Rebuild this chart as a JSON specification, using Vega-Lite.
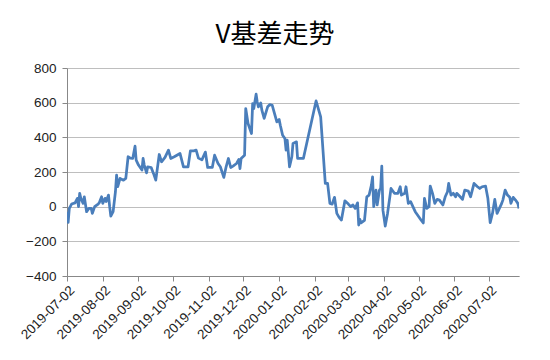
{
  "$schema": "https://vega.github.io/schema/vega-lite/v6.json",
  "width": 452,
  "height": 208,
  "autosize": {"type": "none"},
  "padding": {"left": 67, "top": 68, "right": 31, "bottom": 84},
  "background": "white",
  "title": {
    "text": "V基差走势",
    "fontSize": 26,
    "font": "Noto Sans CJK SC",
    "fontWeight": "normal",
    "color": "#000000",
    "anchor": "middle",
    "dx": -18,
    "offset": 13
  },
  "config": {
    "view": {"stroke": null},
    "axis": {
      "labelFont": "Liberation Sans",
      "labelFontSize": 13.5,
      "labelColor": "#222222",
      "domainColor": "#888888",
      "tickColor": "#888888",
      "gridColor": "#BEBEBE",
      "gridWidth": 1,
      "tickSize": 5,
      "title": null
    }
  },
  "data": {
    "values": [
      {"date": "2019-07-02", "basis": -30},
      {"date": "2019-07-03", "basis": -90},
      {"date": "2019-07-04", "basis": -10},
      {"date": "2019-07-06", "basis": 15},
      {"date": "2019-07-09", "basis": 22},
      {"date": "2019-07-11", "basis": 48},
      {"date": "2019-07-12", "basis": 0},
      {"date": "2019-07-13", "basis": 77},
      {"date": "2019-07-14", "basis": 48},
      {"date": "2019-07-16", "basis": 19},
      {"date": "2019-07-17", "basis": 57},
      {"date": "2019-07-19", "basis": -29},
      {"date": "2019-07-21", "basis": -10},
      {"date": "2019-07-23", "basis": -10},
      {"date": "2019-07-24", "basis": -39},
      {"date": "2019-07-26", "basis": 0},
      {"date": "2019-07-29", "basis": 15},
      {"date": "2019-07-30", "basis": 22},
      {"date": "2019-08-01", "basis": 57},
      {"date": "2019-08-02", "basis": 19},
      {"date": "2019-08-04", "basis": 48},
      {"date": "2019-08-05", "basis": 30},
      {"date": "2019-08-07", "basis": 67},
      {"date": "2019-08-08", "basis": 0},
      {"date": "2019-08-09", "basis": -54},
      {"date": "2019-08-11", "basis": -29},
      {"date": "2019-08-13", "basis": 86},
      {"date": "2019-08-14", "basis": 182},
      {"date": "2019-08-15", "basis": 115},
      {"date": "2019-08-17", "basis": 163},
      {"date": "2019-08-20", "basis": 153},
      {"date": "2019-08-22", "basis": 163},
      {"date": "2019-08-24", "basis": 288},
      {"date": "2019-08-26", "basis": 280},
      {"date": "2019-08-28", "basis": 278},
      {"date": "2019-08-30", "basis": 349},
      {"date": "2019-08-31", "basis": 268},
      {"date": "2019-09-02", "basis": 240},
      {"date": "2019-09-05", "basis": 211},
      {"date": "2019-09-06", "basis": 278},
      {"date": "2019-09-07", "basis": 240},
      {"date": "2019-09-09", "basis": 195},
      {"date": "2019-09-10", "basis": 230},
      {"date": "2019-09-13", "basis": 226},
      {"date": "2019-09-15", "basis": 192},
      {"date": "2019-09-17", "basis": 153},
      {"date": "2019-09-20", "basis": 301},
      {"date": "2019-09-22", "basis": 259},
      {"date": "2019-09-25", "basis": 284},
      {"date": "2019-09-28", "basis": 326},
      {"date": "2019-09-30", "basis": 278},
      {"date": "2019-10-03", "basis": 288},
      {"date": "2019-10-08", "basis": 307},
      {"date": "2019-10-11", "basis": 230},
      {"date": "2019-10-15", "basis": 230},
      {"date": "2019-10-17", "basis": 322},
      {"date": "2019-10-20", "basis": 322},
      {"date": "2019-10-22", "basis": 326},
      {"date": "2019-10-24", "basis": 280},
      {"date": "2019-10-27", "basis": 270},
      {"date": "2019-10-30", "basis": 315},
      {"date": "2019-11-01", "basis": 226},
      {"date": "2019-11-05", "basis": 226},
      {"date": "2019-11-07", "basis": 297},
      {"date": "2019-11-10", "basis": 249},
      {"date": "2019-11-12", "basis": 230},
      {"date": "2019-11-15", "basis": 169},
      {"date": "2019-11-17", "basis": 230},
      {"date": "2019-11-19", "basis": 278},
      {"date": "2019-11-21", "basis": 226},
      {"date": "2019-11-23", "basis": 234},
      {"date": "2019-11-26", "basis": 249},
      {"date": "2019-11-28", "basis": 272},
      {"date": "2019-11-29", "basis": 220},
      {"date": "2019-11-30", "basis": 278},
      {"date": "2019-12-03", "basis": 297},
      {"date": "2019-12-04", "basis": 566},
      {"date": "2019-12-06", "basis": 480},
      {"date": "2019-12-09", "basis": 422},
      {"date": "2019-12-10", "basis": 595},
      {"date": "2019-12-11", "basis": 566},
      {"date": "2019-12-13", "basis": 649},
      {"date": "2019-12-14", "basis": 604},
      {"date": "2019-12-15", "basis": 576},
      {"date": "2019-12-17", "basis": 599},
      {"date": "2019-12-18", "basis": 557},
      {"date": "2019-12-20", "basis": 509},
      {"date": "2019-12-23", "basis": 576},
      {"date": "2019-12-25", "basis": 589},
      {"date": "2019-12-27", "basis": 585},
      {"date": "2019-12-29", "basis": 537},
      {"date": "2019-12-31", "basis": 489},
      {"date": "2020-01-02", "basis": 503},
      {"date": "2020-01-03", "basis": 470},
      {"date": "2020-01-05", "basis": 412},
      {"date": "2020-01-07", "basis": 393},
      {"date": "2020-01-08", "basis": 326},
      {"date": "2020-01-09", "basis": 384},
      {"date": "2020-01-11", "basis": 230},
      {"date": "2020-01-13", "basis": 288},
      {"date": "2020-01-14", "basis": 365},
      {"date": "2020-01-17", "basis": 374},
      {"date": "2020-01-18", "basis": 278},
      {"date": "2020-01-23", "basis": 278},
      {"date": "2020-02-03", "basis": 610},
      {"date": "2020-02-07", "basis": 518},
      {"date": "2020-02-11", "basis": 134},
      {"date": "2020-02-13", "basis": 134},
      {"date": "2020-02-15", "basis": 19},
      {"date": "2020-02-17", "basis": 15},
      {"date": "2020-02-19", "basis": 54},
      {"date": "2020-02-21", "basis": -39},
      {"date": "2020-02-23", "basis": -62},
      {"date": "2020-02-25", "basis": -77},
      {"date": "2020-02-28", "basis": 34},
      {"date": "2020-03-02", "basis": 15},
      {"date": "2020-03-04", "basis": 0},
      {"date": "2020-03-06", "basis": 10},
      {"date": "2020-03-08", "basis": -10},
      {"date": "2020-03-10", "basis": 22},
      {"date": "2020-03-11", "basis": -106},
      {"date": "2020-03-12", "basis": -73},
      {"date": "2020-03-13", "basis": -94},
      {"date": "2020-03-16", "basis": -79},
      {"date": "2020-03-18", "basis": 57},
      {"date": "2020-03-20", "basis": 67},
      {"date": "2020-03-22", "basis": 124},
      {"date": "2020-03-23", "basis": 172},
      {"date": "2020-03-24", "basis": 0},
      {"date": "2020-03-25", "basis": 57},
      {"date": "2020-03-26", "basis": 96},
      {"date": "2020-03-27", "basis": 10},
      {"date": "2020-03-29", "basis": 96},
      {"date": "2020-03-30", "basis": 105},
      {"date": "2020-03-31", "basis": 234},
      {"date": "2020-04-01", "basis": -20},
      {"date": "2020-04-03", "basis": -112},
      {"date": "2020-04-05", "basis": -39},
      {"date": "2020-04-08", "basis": 105},
      {"date": "2020-04-11", "basis": 77},
      {"date": "2020-04-14", "basis": 77},
      {"date": "2020-04-16", "basis": 115},
      {"date": "2020-04-17", "basis": 67},
      {"date": "2020-04-20", "basis": 77},
      {"date": "2020-04-21", "basis": 115},
      {"date": "2020-04-23", "basis": 19},
      {"date": "2020-04-25", "basis": 29},
      {"date": "2020-04-29", "basis": -29},
      {"date": "2020-05-01", "basis": -48},
      {"date": "2020-05-04", "basis": -77},
      {"date": "2020-05-06", "basis": -94},
      {"date": "2020-05-07", "basis": 48},
      {"date": "2020-05-09", "basis": -10},
      {"date": "2020-05-11", "basis": 0},
      {"date": "2020-05-12", "basis": 119},
      {"date": "2020-05-14", "basis": 77},
      {"date": "2020-05-16", "basis": 19},
      {"date": "2020-05-18", "basis": 42},
      {"date": "2020-05-20", "basis": 38},
      {"date": "2020-05-23", "basis": 10},
      {"date": "2020-05-25", "basis": 57},
      {"date": "2020-05-27", "basis": 86},
      {"date": "2020-05-28", "basis": 134},
      {"date": "2020-05-30", "basis": 67},
      {"date": "2020-06-01", "basis": 77},
      {"date": "2020-06-03", "basis": 57},
      {"date": "2020-06-04", "basis": 77},
      {"date": "2020-06-07", "basis": 57},
      {"date": "2020-06-09", "basis": 42},
      {"date": "2020-06-11", "basis": 96},
      {"date": "2020-06-14", "basis": 90},
      {"date": "2020-06-16", "basis": 57},
      {"date": "2020-06-19", "basis": 134},
      {"date": "2020-06-22", "basis": 115},
      {"date": "2020-06-24", "basis": 105},
      {"date": "2020-06-26", "basis": 115},
      {"date": "2020-06-29", "basis": 119},
      {"date": "2020-07-01", "basis": 48},
      {"date": "2020-07-03", "basis": -92},
      {"date": "2020-07-05", "basis": -39},
      {"date": "2020-07-07", "basis": 42},
      {"date": "2020-07-09", "basis": -39},
      {"date": "2020-07-11", "basis": -10},
      {"date": "2020-07-13", "basis": 19},
      {"date": "2020-07-14", "basis": 38},
      {"date": "2020-07-16", "basis": 96},
      {"date": "2020-07-18", "basis": 67},
      {"date": "2020-07-20", "basis": 54},
      {"date": "2020-07-21", "basis": 19},
      {"date": "2020-07-23", "basis": 54},
      {"date": "2020-07-25", "basis": 38},
      {"date": "2020-07-27", "basis": 19},
      {"date": "2020-07-28", "basis": -10}
    ]
  },
  "mark": {"type": "line", "color": "#4A7EBB", "strokeWidth": 2.75, "strokeJoin": "round", "clip": true},
  "encoding": {
    "x": {
      "field": "date",
      "type": "temporal",
      "scale": {
        "type": "utc",
        "nice": false,
        "domain": [
          {"year": 2019, "month": 7, "date": 2, "utc": true},
          {"year": 2020, "month": 7, "date": 28, "utc": true}
        ]
      },
      "axis": {
        "labelExpr": "utcFormat(datum.value, '%Y-%m-%d')",
        "labelAngle": -45,
        "labelAlign": "right",
        "labelBaseline": "top",
        "labelPadding": 2,
        "grid": false,
        "labelOverlap": false,
        "labelBound": false,
        "labelFlush": false,
        "values": [
          {"year": 2019, "month": 7, "date": 2, "utc": true},
          {"year": 2019, "month": 8, "date": 2, "utc": true},
          {"year": 2019, "month": 9, "date": 2, "utc": true},
          {"year": 2019, "month": 10, "date": 2, "utc": true},
          {"year": 2019, "month": 11, "date": 2, "utc": true},
          {"year": 2019, "month": 12, "date": 2, "utc": true},
          {"year": 2020, "month": 1, "date": 2, "utc": true},
          {"year": 2020, "month": 2, "date": 2, "utc": true},
          {"year": 2020, "month": 3, "date": 2, "utc": true},
          {"year": 2020, "month": 4, "date": 2, "utc": true},
          {"year": 2020, "month": 5, "date": 2, "utc": true},
          {"year": 2020, "month": 6, "date": 2, "utc": true},
          {"year": 2020, "month": 7, "date": 2, "utc": true}
        ]
      }
    },
    "y": {
      "field": "basis",
      "type": "quantitative",
      "scale": {"domain": [-400, 800], "nice": false, "zero": false},
      "axis": {
        "values": [-400, -200, 0, 200, 400, 600, 800],
        "labelPadding": 6,
        "grid": true,
        "labelFlush": false
      }
    }
  }
}
